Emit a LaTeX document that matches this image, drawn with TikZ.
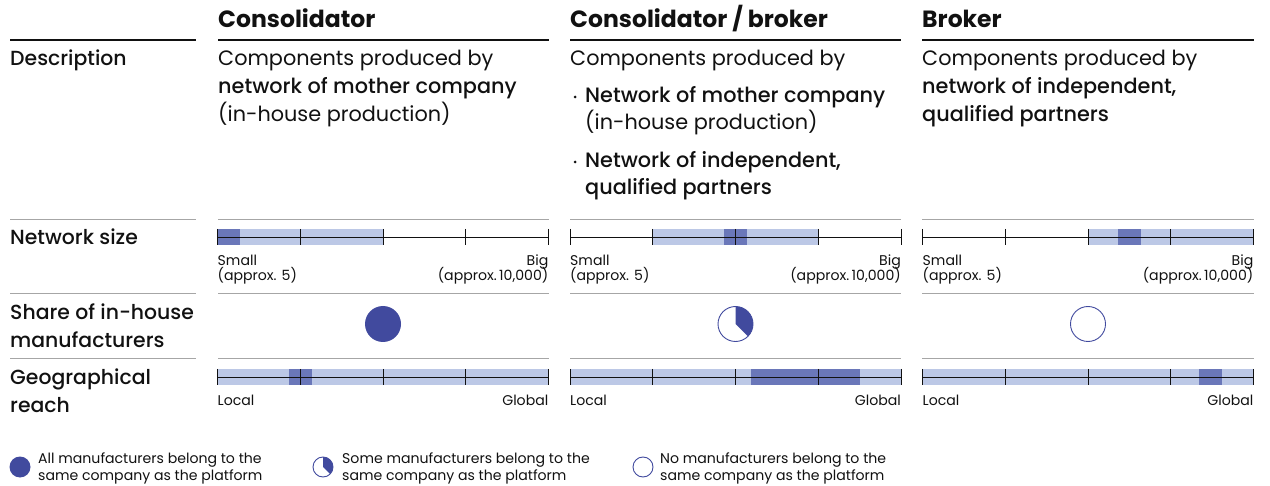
\documentclass[tikz,border=0pt]{standalone}
\usepackage{fontspec}
\setmainfont{Poppins}
\newfontfamily\medfont{Poppins Medium}
\definecolor{ink}{HTML}{111111}
\definecolor{rulegray}{HTML}{A6A6A6}
\definecolor{barlight}{HTML}{BCC8E6}
\definecolor{bardark}{HTML}{6A77B9}
\definecolor{piecol}{HTML}{414A9E}

% scale bar: #1 left x, #2 top y, #3/#4 light band, #5/#6 dark band
\newcommand\scalebar[6]{%
  \fill[barlight] (#3,#2) rectangle (#4,#2+16);
  \fill[bardark] (#5,#2) rectangle (#6,#2+16);
  \draw[axisline] (#1,#2+8) -- (#1+331,#2+8);
  \foreach \k in {0,...,4} \draw[axisline] (#1+\k*82.75,#2) -- (#1+\k*82.75,#2+16);
}

\begin{document}
\begin{tikzpicture}[x=1pt,y=-1pt,
  txt/.style={anchor=base west,inner sep=0pt,text=ink,font=\fontsize{20.8}{24}\selectfont},
  rowtxt/.style={txt,font=\fontsize{20.4}{24}\medfont},
  head/.style={txt,font=\fontsize{23.5}{27}\selectfont\bfseries},
  small/.style={anchor=base west,inner sep=0pt,text=ink,font=\fontsize{14.1}{16}\selectfont},
  smallr/.style={small,anchor=base east},
  toprule/.style={draw=ink,line width=1.1pt},
  rowrule/.style={draw=rulegray,line width=0.9pt},
  axisline/.style={draw=ink,line width=0.8pt},
  dot/.style={circle,fill=piecol,inner sep=0pt,minimum size=36pt},
  ring/.style={circle,draw=piecol,line width=0.9pt,inner sep=0pt,minimum size=35pt},
  ldot/.style={circle,fill=piecol,inner sep=0pt,minimum size=21pt},
  lring/.style={circle,draw=piecol,line width=0.9pt,inner sep=0pt,minimum size=20pt},
  bullet/.style={circle,fill=ink,inner sep=0pt,minimum size=3pt}]
\useasboundingbox (0,0) rectangle (1270,486);

% column headings
\node[head] (hc1) at (218,28) {Consolidator};
\node[head] (hc2) at (570,28) {Consolidator / broker};
\node[head] (hc3) at (922,28) {Broker};

% horizontal rules
\foreach \a/\b in {10/196,218/549,570/901,922/1254}{
  \draw[toprule] (\a,40) -- (\b,40);
  \draw[rowrule] (\a,219) -- (\b,219);
  \draw[rowrule] (\a,293) -- (\b,293);
  \draw[rowrule] (\a,358) -- (\b,358);
}

% row labels
\node[rowtxt] (rdesc) at (10,66) {Description};
\node[rowtxt] (rnet) at (10,245) {Network size};
\node[rowtxt] (rshare1) at (10,320) {Share of in-house};
\node[rowtxt] (rshare2) at (10,348) {manufacturers};
\node[rowtxt] (rgeo1) at (10,385) {Geographical};
\node[rowtxt] (rgeo2) at (10,413) {reach};

% descriptions
\node[txt] (d1a) at (218,66) {Components produced by};
\node[txt] (d1b) at (218,94) {\medfont network of mother company};
\node[txt] (d1c) at (218,122) {(in-house production)};

\node[txt] (d2a) at (570,66) {Components produced by};
\node[bullet] (b2a) at (575,97) {};
\node[txt] (d2b) at (585,103) {\medfont Network of mother company};
\node[txt] (d2c) at (585,130) {(in-house production)};
\node[bullet] (b2b) at (575,162) {};
\node[txt] (d2d) at (585,168) {\medfont Network of independent,};
\node[txt] (d2e) at (585,195) {\medfont qualified partners};

\node[txt] (d3a) at (922,66) {Components produced by};
\node[txt] (d3b) at (922,94) {\medfont network of independent,};
\node[txt] (d3c) at (922,122) {\medfont qualified partners};

% network size bars
\scalebar{217.5}{229}{217.5}{383}{217.5}{240}
\scalebar{570}{229}{652.75}{818.25}{724}{746.5}
\scalebar{922.5}{229}{1088}{1253.5}{1117.5}{1141}
\foreach \x/\n in {217.5/1,570/2,922.5/3}{
  \node[small] (sm\n) at (\x,266) {Small};
  \node[small] (sa\n) at (\x,281) {(approx. 5)};
  \node[smallr] (bg\n) at (\x+331,266) {Big};
  \node[smallr] (ba\n) at (\x+331,281) {(approx.\,10,000)};
}

% share of in-house manufacturers
\node[dot] (sh1) at (383,324) {};
\node[ring] (sh2) at (735.5,324) {};
\fill[piecol] (sh2.center) -- ++(0,-17.5) arc[start angle=-90,end angle=45,radius=17.5] -- cycle;
\node[ring] (sh3) at (1088,324) {};

% geographical reach bars
\scalebar{217.5}{369}{217.5}{548.5}{289}{311.5}
\scalebar{570}{369}{570}{901}{751}{860}
\scalebar{922.5}{369}{922.5}{1253.5}{1199}{1221.5}
\foreach \x/\n in {217.5/1,570/2,922.5/3}{
  \node[small] (lo\n) at (\x,406) {Local};
  \node[smallr] (gl\n) at (\x+331,406) {Global};
}

% legend
\node[ldot] (k1) at (20,467) {};
\node[small] (k1a) at (38,463) {All manufacturers belong to the};
\node[small] (k1b) at (38,480) {same company as the platform};
\node[lring] (k2) at (323,467) {};
\fill[piecol] (k2.center) -- ++(0,-10) arc[start angle=-90,end angle=45,radius=10] -- cycle;
\node[small] (k2a) at (342,463) {Some manufacturers belong to the};
\node[small] (k2b) at (342,480) {same company as the platform};
\node[lring] (k3) at (643,467) {};
\node[small] (k3a) at (660,463) {No manufacturers belong to the};
\node[small] (k3b) at (660,480) {same company as the platform};
\end{tikzpicture}
\end{document}
